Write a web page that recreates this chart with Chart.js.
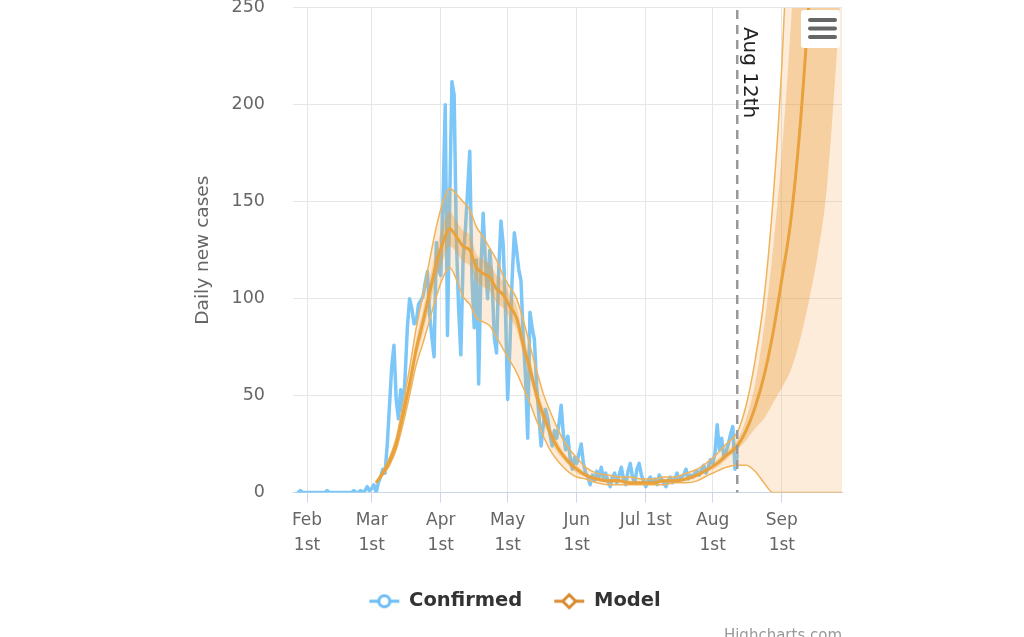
<!DOCTYPE html>
<html>
<head>
<meta charset="utf-8">
<title>Daily new cases</title>
<script src="https://cdn.jsdelivr.net/npm/chart.js@4.4.0/dist/chart.umd.min.js"></script>
<style>
  html, body { margin: 0; padding: 0; background: #fff; }
  #wrap { width: 1024px; height: 637px; }
</style>
</head>
<body>
<div id="wrap"><canvas id="myChart" width="1024" height="637"></canvas></div>
<script>
// x values are days counted from Feb 1st (day 0), 2020
const monthTickDays = [0, 29, 60, 90, 121, 152, 182, 213];
const monthTickLabels = [['Feb', '1st'], ['Mar', '1st'], ['Apr', '1st'], ['May', '1st'],
                         ['Jun', '1st'], 'Jul 1st', ['Aug', '1st'], ['Sep', '1st']];
const yTicks = [0, 50, 100, 150, 200, 250];
const forecastDay = 193;           // Aug 12th
const forecastLabel = 'Aug 12th';

// Confirmed daily cases, one value per day starting Jan 28th
const confirmedStartDay = -4;
const confirmedJan = [0, 1, 0, 0];
const confirmedFeb = [0, 0, 0, 0, 0, 0, 0, 0, 0, 1, 0, 0, 0, 0, 0, 0, 0, 0, 0, 0,
                      0, 1, 0, 0, 1, 0, 1, 3, 1];
const confirmedMar = [2, 4, 0, 5, 8, 12, 10, 25, 45, 65, 76, 48, 38, 53, 40, 60, 85, 100, 95, 87,
                      88, 97, 99, 101, 108, 114, 92, 80, 70, 129, 115];
const confirmedApr = [112, 150, 200, 81, 150, 212, 205, 130, 95, 71, 120, 135, 155, 176, 110, 85, 120, 56, 115, 144,
                      120, 100, 125, 110, 80, 72, 115, 140, 128, 95];
const confirmedMay = [48, 75, 110, 134, 125, 115, 109, 80, 60, 28, 93, 85, 79, 55, 40, 24, 35, 43, 38, 30,
                      24, 32, 28, 35, 45, 30, 22, 29, 18, 12, 18];
const confirmedJun = [15, 20, 25, 15, 10, 8, 4, 9, 6, 11, 8, 13, 7, 10, 6, 3, 8, 10, 5, 9,
                      13, 7, 4, 11, 15, 8, 5, 12, 15, 9];
const confirmedJul = [6, 3, 6, 8, 5, 7, 4, 9, 7, 5, 3, 6, 8, 5, 7, 10, 6, 8, 9, 12,
                      7, 9, 8, 10, 11, 9, 12, 14, 10, 13, 17];
const confirmedAug = [15, 20, 35, 22, 28, 18, 21, 25, 30, 34, 12, 19];

// Model: mean, inner band and outer band, sampled at these days
const modelDays = [31, 34, 37, 40, 43, 46, 49, 52, 55, 58, 61, 64, 67, 70, 73, 76, 79, 82, 85, 88,
                   91, 94, 97, 100, 103, 106, 109, 112, 115, 118, 121, 125, 130, 135, 140, 145, 150, 155, 160, 165,
                   170, 175, 180, 184, 188, 193, 197, 201, 205, 209, 213, 217, 221, 225, 229, 233, 237, 241];
const modelMean = [5, 10, 16, 25, 40, 56, 74, 88, 103, 118, 129, 136, 132, 127, 125, 116, 113, 111, 105, 102,
                   96, 90, 76, 64, 50, 40, 31, 24, 19, 15, 12, 9, 7, 6, 6, 5, 5, 5, 6, 6,
                   7, 9, 12, 15, 19, 24, 32, 44, 60, 82, 110, 140, 186, 250, 330, 420, 520, 640];
const modelInnerLo = [5, 9, 15, 23, 37, 52, 69, 82, 96, 110, 120, 127, 124, 119, 117, 109, 106, 104, 98, 95,
                      90, 84, 71, 59, 46, 36, 28, 21, 17, 13, 10, 8, 6, 5, 5, 4, 4, 4, 5, 5,
                      6, 8, 11, 13, 17, 22, 27, 33, 38, 46, 54, 63, 78, 98, 122, 155, 215, 290];
const modelInnerHi = [5, 11, 17, 27, 43, 60, 79, 94, 110, 126, 138, 145, 140, 135, 133, 123, 120, 118, 112, 109,
                      102, 96, 81, 69, 54, 44, 34, 27, 21, 17, 14, 10, 8, 7, 7, 6, 6, 6, 7, 7,
                      8, 10, 13, 17, 21, 27, 38, 56, 85, 125, 175, 240, 320, 420, 540, 680, 850, 1000];
const modelOuterLo = [5, 9, 14, 22, 35, 50, 66, 77, 89, 101, 111, 116, 110, 101, 97, 90, 88, 86, 80, 74,
                      68, 62, 54, 46, 37, 29, 22, 17, 13, 10, 8, 7, 5, 4, 4, 4, 4, 4, 4, 5,
                      5, 6, 9, 11, 13, 14, 14, 11, 5, 0, 0, 0, 0, 0, 0, 0, 0, 0];
const modelOuterHi = [5, 11, 18, 28, 45, 64, 85, 102, 120, 137, 150, 157, 154, 150, 146, 137, 132, 126, 120, 112,
                      106, 100, 89, 76, 63, 51, 42, 34, 27, 22, 18, 13, 10, 9, 8, 8, 7, 7, 8, 8,
                      10, 12, 16, 20, 25, 31, 45, 68, 100, 150, 220, 320, 450, 600, 800, 1000, 1300, 1600];

const legendLabels = ['Confirmed', 'Model'];

const FONT = 'DejaVu Sans';
const BLUE = '#7cc7f7';
const ORANGE = '#e9a13c';
const ORANGE_DARK = '#d88a30';

Chart.defaults.font.family = FONT;

const confirmedValues = [].concat(confirmedJan, confirmedFeb, confirmedMar, confirmedApr,
                                  confirmedMay, confirmedJun, confirmedJul, confirmedAug);
const confirmedPoints = confirmedValues.map((v, i) => ({ x: confirmedStartDay + i, y: v }));
const modelPoints = (vals) => modelDays.map((d, i) => ({ x: d, y: vals[i] }));

function legendIcon(color, shape) {
    const c = document.createElement('canvas');
    c.width = 32; c.height = 18;
    const g = c.getContext('2d');
    g.strokeStyle = color;
    g.lineWidth = 3;
    g.beginPath(); g.moveTo(1, 9); g.lineTo(31, 9); g.stroke();
    g.fillStyle = '#fff';
    g.beginPath();
    if (shape === 'circle') {
        g.arc(16, 9, 5.5, 0, Math.PI * 2);
    } else {
        g.moveTo(16, 2.5); g.lineTo(22.5, 9); g.lineTo(16, 15.5); g.lineTo(9.5, 9); g.closePath();
    }
    g.fill(); g.stroke();
    return c;
}
const legendIcons = [legendIcon('#6cbdf5', 'circle'), legendIcon(ORANGE_DARK, 'diamond')];

const overlayPlugin = {
    id: 'overlay',
    afterDatasetsDraw(chart) {
        const { ctx, chartArea, scales } = chart;
        const x = scales.x.getPixelForValue(forecastDay);
        ctx.save();
        // forecast start line
        ctx.strokeStyle = '#999';
        ctx.lineWidth = 2.5;
        ctx.setLineDash([9, 6]);
        ctx.beginPath();
        ctx.moveTo(x, chartArea.top + 2);
        ctx.lineTo(x, chartArea.bottom);
        ctx.stroke();
        ctx.setLineDash([]);
        ctx.translate(x + 12, chartArea.top + 19);
        ctx.rotate(Math.PI / 2);
        ctx.fillStyle = '#222';
        ctx.font = '20px ' + FONT;
        ctx.textBaseline = 'middle';
        ctx.textAlign = 'left';
        ctx.fillText(forecastLabel, 0, 0);
        ctx.restore();

        // menu button
        ctx.save();
        ctx.fillStyle = '#fff';
        ctx.beginPath();
        ctx.roundRect(801, 10, 39, 38, 3);
        ctx.fill();
        ctx.strokeStyle = '#666';
        ctx.lineWidth = 4;
        ctx.lineCap = 'round';
        [20, 28.5, 37].forEach(y => {
            ctx.beginPath(); ctx.moveTo(810, y); ctx.lineTo(835, y); ctx.stroke();
        });
        ctx.restore();
    },
    afterDraw(chart) {
        const { ctx } = chart;
        ctx.save();
        ctx.fillStyle = '#999';
        ctx.font = '15px ' + FONT;
        ctx.textAlign = 'right';
        ctx.textBaseline = 'alphabetic';
        ctx.fillText('Highcharts.com', 842, 640);
        ctx.restore();
    }
};

function renderChart() {
    const ctx = document.getElementById('myChart').getContext('2d');
    const lineBase = { pointRadius: 0, pointHoverRadius: 0, cubicInterpolationMode: 'monotone' };
    new Chart(ctx, {
        type: 'line',
        data: {
            datasets: [
                {
                    label: 'Confirmed', data: confirmedPoints, borderColor: BLUE, borderWidth: 3.5,
                    pointRadius: 0, tension: 0, fill: false, order: 10,
                    borderJoinStyle: 'round', borderCapStyle: 'round'
                },
                Object.assign({
                    label: 'Model outer high', data: modelPoints(modelOuterHi), borderColor: '#f0b35a',
                    borderWidth: 1.5, backgroundColor: 'rgba(240, 168, 80, 0.22)', fill: '+1', order: 5
                }, lineBase),
                Object.assign({
                    label: 'Model outer low', data: modelPoints(modelOuterLo), borderColor: '#f0b35a',
                    borderWidth: 1.5, fill: false, order: 4
                }, lineBase),
                Object.assign({
                    label: 'Model inner high', data: modelPoints(modelInnerHi), borderColor: 'rgba(0,0,0,0)',
                    borderWidth: 0, backgroundColor: 'rgba(235, 158, 60, 0.36)', fill: '+1', order: 3
                }, lineBase),
                Object.assign({
                    label: 'Model inner low', data: modelPoints(modelInnerLo), borderColor: 'rgba(0,0,0,0)',
                    borderWidth: 0, fill: false, order: 2
                }, lineBase),
                Object.assign({
                    label: 'Model', data: modelPoints(modelMean), borderColor: ORANGE,
                    borderWidth: 3, fill: false, order: 1
                }, lineBase)
            ]
        },
        options: {
            responsive: false,
            animation: false,
            events: [],
            layout: { padding: { left: 188, right: 182, top: 0, bottom: 16 } },
            scales: {
                x: {
                    type: 'linear',
                    min: -6.3,
                    max: 240,
                    afterBuildTicks: (axis) => { axis.ticks = monthTickDays.map(v => ({ value: v })); },
                    afterFit: (scale) => { scale.height = 67; },
                    ticks: {
                        callback: (value, index) => monthTickLabels[index],
                        color: '#666',
                        font: { size: 17, lineHeight: 1.5 },
                        padding: 5,
                        maxRotation: 0,
                        autoSkip: false
                    },
                    grid: { color: '#e6e6e6', tickColor: '#ccd6eb', tickLength: 10, lineWidth: 1 },
                    border: { color: '#ccd6eb', width: 1 }
                },
                y: {
                    min: 0,
                    max: 250,
                    afterBuildTicks: (axis) => { axis.ticks = yTicks.map(v => ({ value: v })); },
                    afterFit: (scale) => { scale.width = 105; },
                    ticks: { color: '#666', font: { size: 17.5, lineHeight: 0.9 }, padding: 0 },
                    grid: { color: '#e6e6e6', drawTicks: true, tickLength: 28, tickColor: 'rgba(0,0,0,0)' },
                    border: { display: false },
                    title: {
                        display: true, text: 'Daily new cases', color: '#666',
                        font: { size: 18.5 }, padding: { top: 4, bottom: 0 }
                    }
                }
            },
            plugins: {
                tooltip: { enabled: false },
                legend: {
                    position: 'bottom',
                    labels: {
                        usePointStyle: true,
                        pointStyleWidth: 30,
                        padding: 32,
                        color: '#333',
                        font: { size: 19.5, weight: 'bold' },
                        generateLabels: () => legendLabels.map((text, i) => ({
                            text: text,
                            pointStyle: legendIcons[i],
                            fontColor: '#333',
                            fillStyle: 'rgba(0,0,0,0)',
                            strokeStyle: 'rgba(0,0,0,0)',
                            lineWidth: 0,
                            hidden: false,
                            datasetIndex: i === 0 ? 0 : 5
                        }))
                    }
                }
            }
        },
        plugins: [overlayPlugin]
    });
}

document.addEventListener('DOMContentLoaded', renderChart);
</script>
</body>
</html>
